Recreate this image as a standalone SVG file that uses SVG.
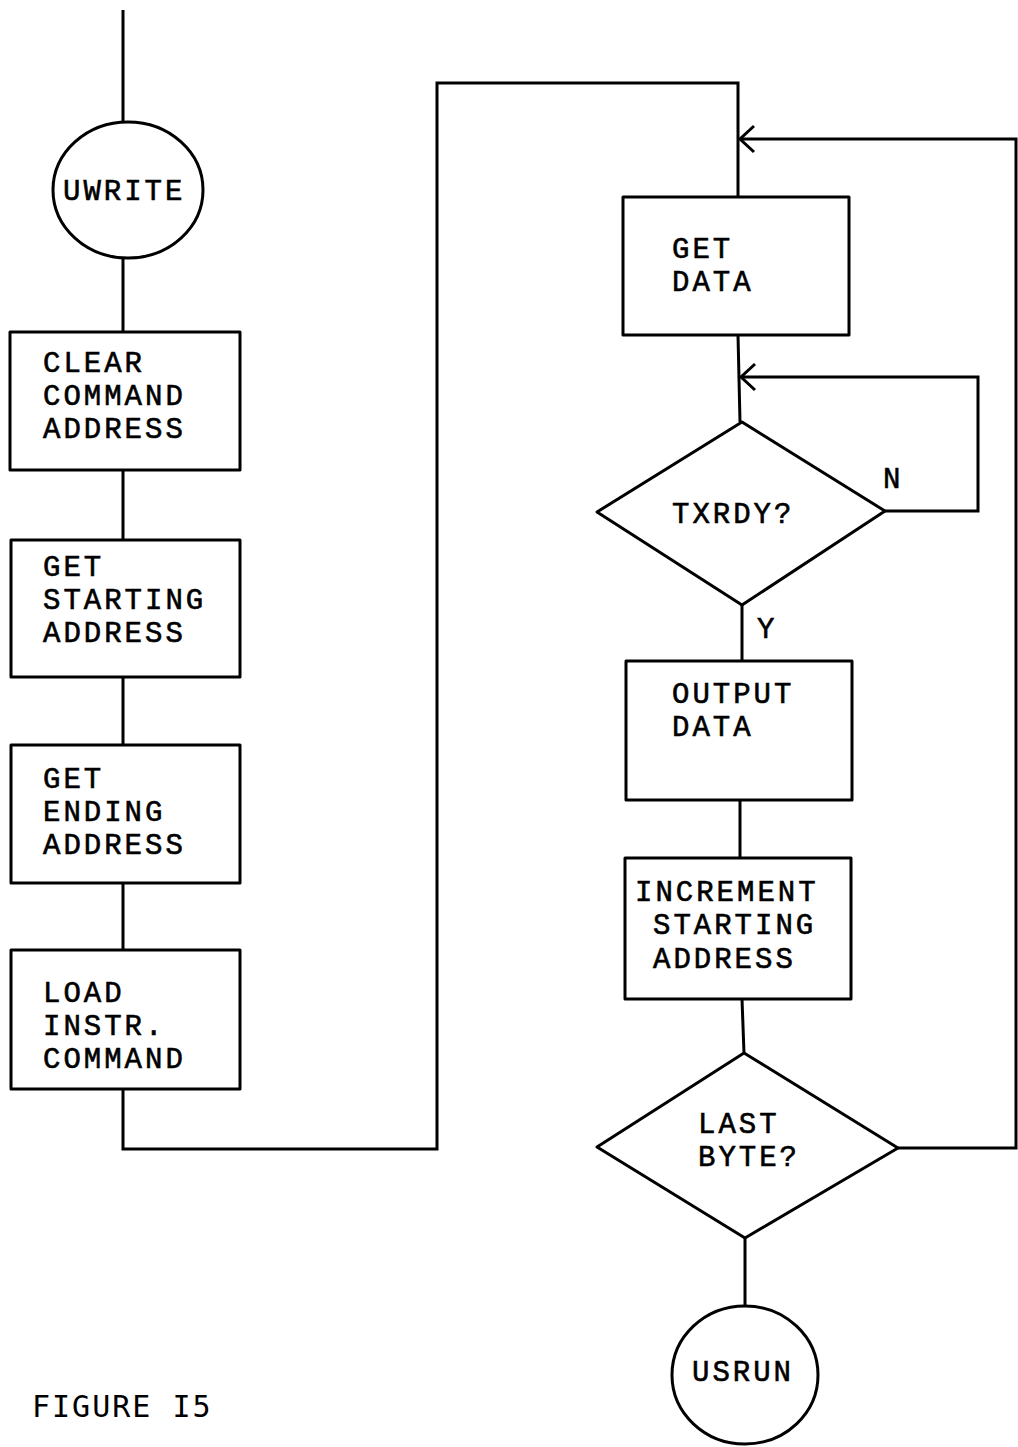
<svg xmlns="http://www.w3.org/2000/svg" width="1018" height="1447" viewBox="0 0 1018 1447">
<defs>
<style>
.shape{fill:#fff;stroke:#000;stroke-width:3;stroke-linejoin:round}
.conn{fill:none;stroke:#000;stroke-width:3}
.t{font-family:"Liberation Mono","Courier New",monospace;font-size:29px;letter-spacing:3px;fill:#000;stroke:#000;stroke-width:0.6px}
.cap{font-family:"DejaVu Sans Mono","Liberation Mono",monospace;font-size:30px;fill:#000;letter-spacing:2px}
</style>
<marker id="arr" markerUnits="userSpaceOnUse" markerWidth="20" markerHeight="32" viewBox="-16 -16 20 32" refX="0" refY="0" orient="auto">
<path d="M-14,-13 L0,0 L-14,13" fill="none" stroke="#000" stroke-width="3"/>
</marker>
</defs>
<rect width="1018" height="1447" fill="#fff"/>
<g id="connectors">
<line class="conn" x1="123" y1="10" x2="123" y2="122"/>
<line class="conn" x1="123" y1="258" x2="123" y2="332"/>
<line class="conn" x1="123" y1="470" x2="123" y2="540"/>
<line class="conn" x1="123" y1="677" x2="123" y2="745"/>
<line class="conn" x1="123" y1="883" x2="123" y2="950"/>
<polyline class="conn" points="123,1089 123,1149 437,1149 437,83 738,83 738,197"/>
<polyline class="conn" points="898,1148 1016,1148 1016,139 740,139" marker-end="url(#arr)"/>
<line class="conn" x1="738" y1="335" x2="740" y2="422"/>
<polyline class="conn" points="885,511 978,511 978,377 741,377" marker-end="url(#arr)"/>
<line class="conn" x1="742" y1="605" x2="742" y2="661"/>
<line class="conn" x1="740" y1="800" x2="740" y2="858"/>
<line class="conn" x1="742" y1="999" x2="744" y2="1053"/>
<line class="conn" x1="745" y1="1238" x2="745" y2="1306"/>
</g>
<g id="uwrite">
<ellipse class="shape" cx="128" cy="190" rx="75" ry="68"/>
<text class="t" x="63" y="200">UWRITE</text>
</g>
<g id="clear-command-address">
<rect class="shape" x="10" y="332" width="230" height="138"/>
<text class="t" x="43" y="372">CLEAR</text>
<text class="t" x="43" y="405">COMMAND</text>
<text class="t" x="43" y="438">ADDRESS</text>
</g>
<g id="get-starting-address">
<rect class="shape" x="11" y="540" width="229" height="137"/>
<text class="t" x="43" y="576">GET</text>
<text class="t" x="43" y="609">STARTING</text>
<text class="t" x="43" y="642">ADDRESS</text>
</g>
<g id="get-ending-address">
<rect class="shape" x="11" y="745" width="229" height="138"/>
<text class="t" x="43" y="788">GET</text>
<text class="t" x="43" y="821">ENDING</text>
<text class="t" x="43" y="854">ADDRESS</text>
</g>
<g id="load-instr-command">
<rect class="shape" x="11" y="950" width="229" height="139"/>
<text class="t" x="43" y="1002">LOAD</text>
<text class="t" x="43" y="1035">INSTR.</text>
<text class="t" x="43" y="1068">COMMAND</text>
</g>
<g id="get-data">
<rect class="shape" x="623" y="197" width="226" height="138"/>
<text class="t" x="672" y="258">GET</text>
<text class="t" x="672" y="291">DATA</text>
</g>
<g id="txrdy">
<polygon class="shape" points="742,422 885,511 742,605 597,512"/>
<text class="t" x="672" y="523">TXRDY?</text>
<text class="t" x="883" y="488">N</text>
<text class="t" x="757" y="638">Y</text>
</g>
<g id="output-data">
<rect class="shape" x="626" y="661" width="226" height="139"/>
<text class="t" x="672" y="703">OUTPUT</text>
<text class="t" x="672" y="736">DATA</text>
</g>
<g id="increment-starting-address">
<rect class="shape" x="625" y="858" width="226" height="141"/>
<text class="t" x="635" y="901">INCREMENT</text>
<text class="t" x="653" y="934">STARTING</text>
<text class="t" x="653" y="968">ADDRESS</text>
</g>
<g id="last-byte">
<polygon class="shape" points="744,1053 898,1148 745,1238 597,1147"/>
<text class="t" x="698" y="1133">LAST</text>
<text class="t" x="698" y="1166">BYTE?</text>
</g>
<g id="usrun">
<ellipse class="shape" cx="745" cy="1375" rx="73" ry="69"/>
<text class="t" x="692" y="1381">USRUN</text>
</g>
<g id="caption">
<text class="cap" x="32" y="1417">FIGURE I5</text>
</g>
</svg>
